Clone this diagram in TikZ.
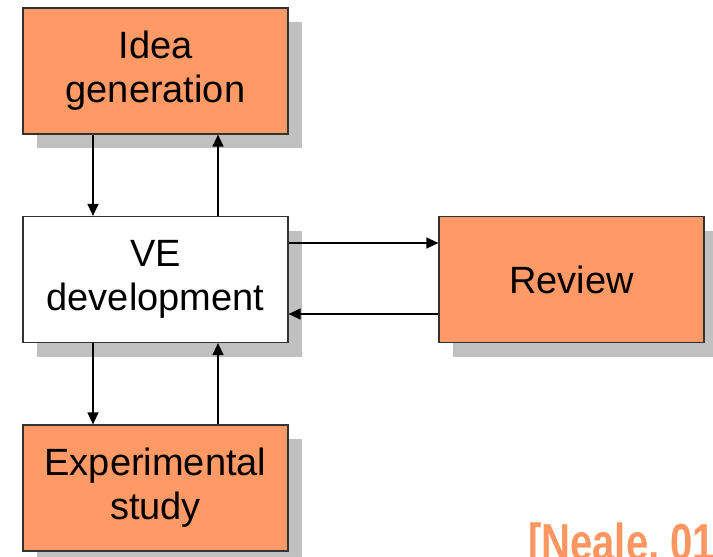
\documentclass[tikz,border=0pt]{standalone}
\usepackage{fontspec}
\usepackage{graphicx}
\setmainfont{Liberation Sans}
\usetikzlibrary{arrows.meta,shadows}
\definecolor{boxorange}{RGB}{255,153,102}
\definecolor{shadowgray}{RGB}{192,192,192}
\definecolor{citeorange}{RGB}{255,150,95}
\tikzset{
  block/.style={draw=black!80, line width=1.2pt, minimum width=265pt, minimum height=126pt,
    inner sep=0pt, align=center, font=\fontsize{38}{44}\selectfont,
    drop shadow={shadow xshift=14pt, shadow yshift=-14pt, fill=shadowgray, opacity=1}},
  orangeblock/.style={block, fill=boxorange},
  whiteblock/.style={block, fill=white},
  flow/.style={line width=1.3pt, -{Triangle[width=11pt,length=12pt]}}
}
\begin{document}
\begin{tikzpicture}[x=1pt,y=-1pt]
\useasboundingbox (0,0) rectangle (713,557);
\clip (0,0) rectangle (713,557);
\fill[white] (0,0) rectangle (713,557);

% the four stages
\node[orangeblock] (idea) at (155.5,71) {Idea\\generation};
\node[whiteblock]  (ve)   at (155.5,279.5) {VE\\development};
\node[orangeblock] (rev)  at (571.5,279.5) {Review};
\node[orangeblock] (exp)  at (155.5,488) {Experimental\\study};

% attachment points of the connectors
\coordinate (xl) at (93,0);
\coordinate (xr) at (218,0);
\coordinate (yt) at (0,243);
\coordinate (yb) at (0,314);

% vertical links
\draw[flow] (idea.south -| xl) -- (ve.north -| xl);
\draw[flow] (ve.north -| xr) -- (idea.south -| xr);
\draw[flow] (ve.south -| xl) -- (exp.north -| xl);
\draw[flow] (exp.north -| xr) -- (ve.south -| xr);

% horizontal links
\draw[flow] (ve.east |- yt) -- (rev.west |- yt);
\draw[flow] (rev.west |- yb) -- (ve.east |- yb);

% citation, running off the lower right corner
\node[anchor=base west, inner sep=0pt, text=citeorange,
      font=\fontsize{52}{52}\selectfont\bfseries] (cite) at (528,560)
      {\scalebox{0.77}[1]{[Neale, 01]}};
\end{tikzpicture}
\end{document}
